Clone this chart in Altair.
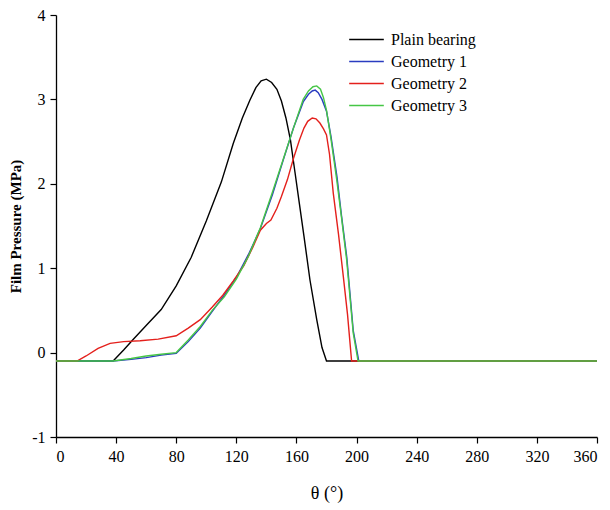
import altair as alt
import pandas as pd

# Crank angle (deg) and film pressure (MPa) for each bearing configuration
plain_theta = [0, 38, 45, 51, 60, 70, 80, 90, 100, 110, 118, 124, 129, 133, 136.5,
               140, 143.5, 147, 150, 153, 156, 159, 162, 165, 169, 173.5, 177, 180,
               360]
plain_p = [-0.1, -0.1, 0.03, 0.15, 0.32, 0.51, 0.79, 1.13, 1.56, 2.02, 2.48, 2.78,
           2.99, 3.14, 3.22, 3.24, 3.2, 3.12, 2.98, 2.78, 2.52, 2.14, 1.76, 1.38,
           0.86, 0.39, 0.06, -0.1, -0.1]

geo1_theta = [0, 38, 50, 60, 70, 80, 88, 96, 104, 112, 120, 128, 136, 144, 151, 158,
              164.5, 168, 170.5, 172.5, 174.5, 177, 180, 183, 187, 190, 193.5, 197.8,
              201.5, 360]
geo1_p = [-0.1, -0.1, -0.08, -0.06, -0.03, -0.01, 0.13, 0.29, 0.49, 0.68, 0.89, 1.16,
          1.47, 1.87, 2.27, 2.66, 2.97, 3.06, 3.1, 3.11, 3.08, 3.0, 2.86, 2.56, 2.08,
          1.62, 1.13, 0.26, -0.1, -0.1]

geo2_theta = [0, 14, 20, 28, 36, 45, 56, 68, 80, 88, 96, 104, 111, 118, 125, 131, 136,
              140, 143, 147, 150, 154, 158, 162, 165, 167.5, 170.5, 173, 175.6, 178,
              180, 182, 184.5, 188, 191.2, 194, 196.7, 360]
geo2_p = [-0.1, -0.1, -0.04, 0.05, 0.11, 0.13, 0.14, 0.16, 0.2, 0.29, 0.39, 0.54, 0.68,
          0.85, 1.03, 1.25, 1.45, 1.53, 1.57, 1.71, 1.85, 2.05, 2.3, 2.52, 2.66, 2.74,
          2.78, 2.77, 2.72, 2.65, 2.58, 2.35, 1.89, 1.4, 0.9, 0.45, -0.1, -0.1]

geo3_theta = [0, 38, 50, 60, 70, 80, 88, 96, 104, 112, 120, 128, 136, 140, 144, 151,
              158, 164.5, 168, 171, 173.5, 176, 178, 180, 183, 186.8, 190, 193.4,
              197.8, 201, 360]
geo3_p = [-0.1, -0.1, -0.07, -0.04, -0.02, 0.0, 0.15, 0.31, 0.5, 0.66, 0.87, 1.14,
          1.48, 1.69, 1.9, 2.28, 2.66, 3.0, 3.1, 3.15, 3.16, 3.12, 3.02, 2.87, 2.53,
          2.05, 1.6, 1.1, 0.23, -0.1, -0.1]

series_names = ["Plain bearing", "Geometry 1", "Geometry 2", "Geometry 3"]
series_colors = ["#000000", "#2a3cc0", "#e4201c", "#46c646"]
series_widths = [1.4, 1.4, 1.6, 2.8]

frames = []
for name, th, p in zip(series_names,
                       [plain_theta, geo1_theta, geo2_theta, geo3_theta],
                       [plain_p, geo1_p, geo2_p, geo3_p]):
    frames.append(pd.DataFrame({"theta": th, "pressure": p, "series": name}))
df = pd.concat(frames, ignore_index=True)

font = "'Liberation Serif', 'Times New Roman', serif"

chart = alt.Chart(df).mark_line(interpolate="linear").encode(
    x=alt.X("theta:Q", title="θ (°)",
            scale=alt.Scale(domain=[0, 360], nice=False),
            axis=alt.Axis(values=list(range(0, 361, 40)), titlePadding=20,
                          titleFontWeight="normal", titleFontSize=18)),
    y=alt.Y("pressure:Q", title="Film Pressure (MPa)",
            scale=alt.Scale(domain=[-1, 4], nice=False),
            axis=alt.Axis(values=[-1, 0, 1, 2, 3, 4], titlePadding=8,
                          labelExpr="'' + datum.value",
                          titleFontWeight="bold", titleFontSize=15)),
    color=alt.Color("series:N", title=None,
                    scale=alt.Scale(domain=series_names, range=series_colors),
                    legend=alt.Legend(orient="none", legendX=301, legendY=15,
                                      symbolType="M-2,0L2,0", symbolSize=300,
                                      symbolStrokeWidth=2, rowPadding=4,
                                      labelFontSize=16, labelFont=font,
                                      labelOffset=15, padding=0)),
    strokeWidth=alt.StrokeWidth("series:N", legend=None,
                                scale=alt.Scale(domain=series_names,
                                                range=series_widths)),
    detail="series:N",
).properties(
    width=541,
    height=422,
    padding={"left": 56, "top": 15, "right": 13, "bottom": 73},
    autosize=alt.AutoSizeParams(type="none"),
).configure_view(
    stroke=None
).configure_axis(
    grid=False,
    domainColor="#000000",
    domainWidth=1.3,
    tickColor="#000000",
    tickWidth=1.2,
    tickSize=6,
    labelFont=font,
    labelFontSize=16,
    labelColor="#000000",
    titleFont=font,
    titleColor="#000000",
    labelPadding=5,
)

chart.save("out.html", embed_options={"renderer": "svg", "actions": False})
